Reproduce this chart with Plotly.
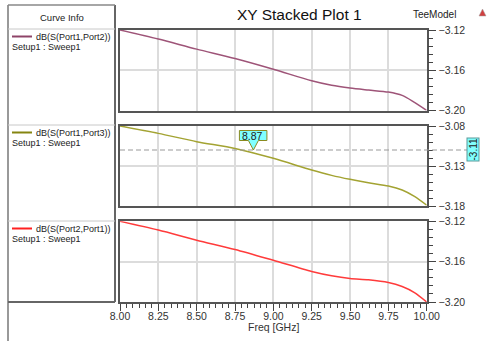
import plotly.graph_objects as go

W, H = 488, 341

# ---------------- data ----------------
freq = [8.00, 8.25, 8.50, 8.75, 9.00, 9.25, 9.38, 9.50, 9.62, 9.75, 9.84, 9.92, 10.00]
s12 = [-3.1200, -3.1290, -3.1390, -3.1483, -3.1590, -3.1705, -3.1750, -3.1777, -3.1797, -3.1817, -3.1850, -3.1920, -3.2000]
s13 = [-3.0800, -3.0892, -3.0996, -3.1080, -3.1204, -3.1350, -3.1417, -3.1467, -3.1510, -3.1550, -3.1600, -3.1680, -3.1790]
s21 = [-3.1200, -3.1287, -3.1387, -3.1480, -3.1587, -3.1697, -3.1740, -3.1767, -3.1780, -3.1807, -3.1847, -3.1907, -3.2000]
names = ["dB(S(Port1,Port2))", "dB(S(Port1,Port3))", "dB(S(Port2,Port1))"]
setup_label = "Setup1 : Sweep1"
colors = ["#9E5478", "#A3A332", "#FF3B3B"]
legend_colors = ["#8E4468", "#858510", "#FF2020"]
y_ranges = [[-3.20, -3.12], [-3.18, -3.08], [-3.20, -3.12]]
y_dticks = [0.04, 0.05, 0.04]
y_minor = [0.008, 0.01, 0.008]
marker_x = 8.87
marker_y = -3.11

FONT = "Arial, Liberation Sans, sans-serif"

def px(x):
    return x / W

def py(y):
    return 1 - y / H

fig = go.Figure()
series = [s12, s13, s21]
for i, s in enumerate(series):
    ax = "" if i == 0 else str(i + 1)
    fig.add_trace(go.Scatter(x=freq, y=s, mode="lines", line=dict(color=colors[i], width=1.5, shape="spline", smoothing=0.8),
                             xaxis="x" + ax, yaxis="y" + ax, showlegend=False, hoverinfo="skip"))

xdom = [px(120), px(426.7)]
ydoms = [[py(110.5), py(30)], [py(206), py(126)], [py(302), py(221.3)]]

layout = dict(width=W, height=H, margin=dict(l=0, r=0, t=0, b=0, pad=0, autoexpand=False),
              paper_bgcolor="white", plot_bgcolor="white",
              font=dict(family=FONT, size=10, color="#222"), showlegend=False)

for i in range(3):
    ax = "" if i == 0 else str(i + 1)
    bottom = (i == 2)
    xa = dict(domain=xdom, range=[8, 10], anchor="y" + ax, showgrid=True, gridcolor="#dcdcdc", gridwidth=1.5,
              dtick=0.25, tick0=8, showline=True, mirror=True, linecolor="#555", linewidth=1.5,
              zeroline=False, showticklabels=bottom, tickformat=".2f", automargin=False,
              tickfont=dict(size=10.5, color="#333"))
    if bottom:
        xa.update(ticks="outside", ticklen=7, tickcolor="#444", tickwidth=1, ticklabelstandoff=-3,
                  minor=dict(dtick=0.25 / 6, tick0=8, ticks="outside", ticklen=4, tickcolor="#444", showgrid=False))
    else:
        xa.update(ticks="")
    ya = dict(domain=ydoms[i], range=y_ranges[i], anchor="x" + ax, side="right", showgrid=True,
              gridcolor="#dcdcdc", gridwidth=1.5, dtick=y_dticks[i], tick0=y_ranges[i][0],
              showline=True, mirror=True, linecolor="#555", linewidth=1.5, zeroline=False,
              ticks="outside", ticklen=8, tickcolor="#444", tickwidth=1, tickformat=".2f", automargin=False,
              tickfont=dict(size=10.5, color="#333"),
              minor=dict(dtick=y_minor[i], tick0=y_ranges[i][0], ticks="outside", ticklen=5, tickcolor="#444", showgrid=False))
    layout["xaxis" + ax] = xa
    layout["yaxis" + ax] = ya

fig.update_layout(**layout)

shapes = []
anns = []


def text(t, x, y, size=10, color="#222", xanchor="center", **kw):
    anns.append(dict(text=t, x=px(x), y=py(y), xref="paper", yref="paper", showarrow=False,
                     xanchor=xanchor, yanchor="middle", borderpad=0, font=dict(size=size, color=color), **kw))


# Curve Info frame
shapes.append(dict(type="line", xref="paper", yref="paper", x0=px(8), x1=px(8), y0=py(5), y1=py(341), line=dict(color="#999", width=2)))
shapes.append(dict(type="line", xref="paper", yref="paper", x0=px(115), x1=px(115), y0=py(5), y1=py(302), line=dict(color="#666", width=2)))
shapes.append(dict(type="line", xref="paper", yref="paper", x0=px(8), x1=px(115), y0=py(5), y1=py(5), line=dict(color="#888", width=1.5)))
shapes.append(dict(type="line", xref="paper", yref="paper", x0=px(8), x1=px(115), y0=py(302), y1=py(302), line=dict(color="#666", width=2)))
for yy in [29, 125, 221]:
    shapes.append(dict(type="line", xref="paper", yref="paper", x0=px(8), x1=px(115), y0=py(yy), y1=py(yy), line=dict(color="#c8c8c8", width=1)))
text("Curve Info", 62, 17.5, size=9.5)

rows = [29, 125, 221]
for i in range(3):
    top = rows[i]
    shapes.append(dict(type="line", xref="paper", yref="paper", x0=px(12), x1=px(32), y0=py(top + 7.5), y1=py(top + 7.5),
                       line=dict(color=legend_colors[i], width=2)))
    text(names[i], 35, top + 7.5, size=9)
    anns[-1]["xanchor"] = "left"
    text(setup_label, 10.5, top + 18, size=9)
    anns[-1]["xanchor"] = "left"

# titles
text("XY Stacked Plot 1", 299, 15, size=15.5, color="#111")
text("TeeModel", 434, 15)
text("Freq [GHz]", 273, 327, size=10.5, color="#333")
shapes.append(dict(type="path", xref="paper", yref="paper",
                   path=f"M {px(479)},{py(16)} L {px(486)},{py(16)} L {px(482.5)},{py(9)} Z",
                   fillcolor="#d04040", line=dict(color="#a0a0a0", width=0.5)))

# marker dashed line and labels
shapes.append(dict(type="line", xref="paper", yref="y2", x0=xdom[0], x1=px(468), y0=marker_y, y1=marker_y,
                   line=dict(color="#9a9a9a", width=1.2, dash="5px,3px")))
shapes.append(dict(type="path", xref="x2", yref="y2", xsizemode="pixel", ysizemode="pixel",
                   xanchor=marker_x, yanchor=marker_y,
                   path="M 0,0 L 5,9.5 L 13.5,9.5 L 13.5,19.5 L -14,19.5 L -14,9.5 L -5,9.5 Z",
                   fillcolor="#80FFFF", line=dict(color="#8a8a20", width=1)))
anns.append(dict(text="8.87", x=marker_x, y=marker_y, xref="x2", yref="y2", showarrow=False, yshift=14.5, xshift=-0.5,
                 xanchor="center", yanchor="middle", font=dict(size=10.5, color="#222")))
anns.append(dict(text=f"{marker_y:.2f}", x=px(472.5), y=marker_y, xref="paper", yref="y2", showarrow=False,
                 xanchor="center", yanchor="middle",
                 textangle=-90, bgcolor="#80FFFF", bordercolor="#5a9a9a", borderwidth=1, borderpad=0,
                 font=dict(size=10, color="#222")))

fig.update_layout(shapes=shapes, annotations=anns)
fig.write_html("out.html")
